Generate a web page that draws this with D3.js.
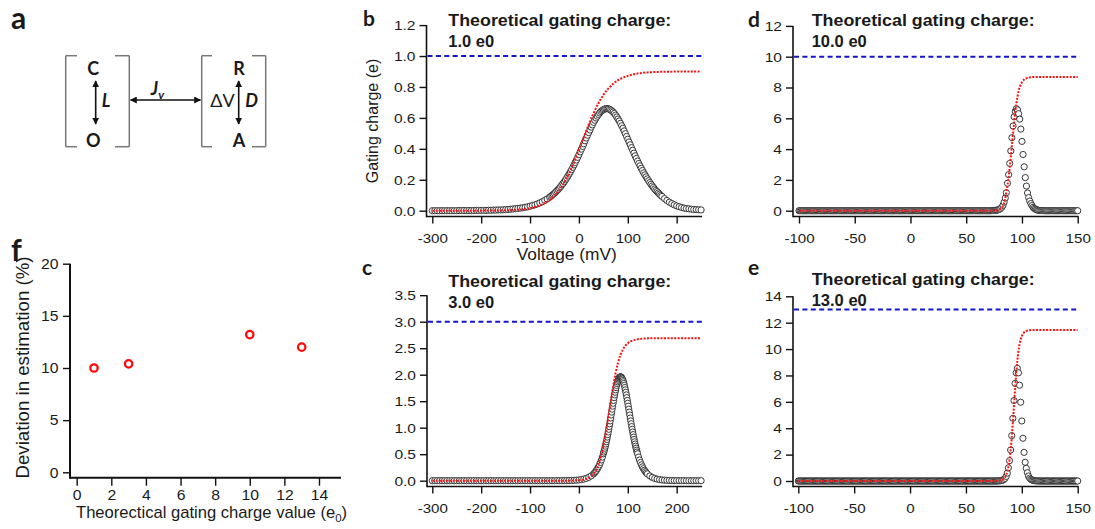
<!DOCTYPE html>
<html>
<head>
<meta charset="utf-8">
<script src="https://cdn.jsdelivr.net/npm/d3@7"></script>
<style>
  body { margin: 0; background: #fff; }
  text { font-family: "Liberation Sans", Arial, sans-serif; fill: #1a1a1a; }
  .cal { font-family: Lato, "Open Sans", sans-serif; }
</style>
</head>
<body>
<svg id="fig" width="1095" height="529"></svg>
<script>
// ---------- data ----------
// panel b : measured charge (circles) and fitted cumulative charge (red dots), [mV, e]
var bCircles = [
 [-300,0],[-295,0],[-290,0],[-285,0],[-280,0],[-275,0],[-270,0],[-265,0],[-260,0],[-255,0],[-250,0],
 [-245,0.001],[-240,0.001],[-235,0.001],[-230,0.001],[-225,0.001],[-220,0.001],[-215,0.001],[-210,0.002],[-205,0.002],[-200,0.002],
 [-195,0.002],[-190,0.002],[-185,0.003],[-180,0.003],[-175,0.004],[-170,0.004],[-165,0.005],[-160,0.005],[-155,0.006],[-150,0.007],
 [-145,0.008],[-140,0.010],[-135,0.011],[-130,0.013],[-125,0.015],[-120,0.017],[-115,0.019],[-110,0.022],[-105,0.025],[-100,0.029],
 [-95,0.034],[-90,0.038],[-85,0.044],[-80,0.051],[-75,0.058],[-70,0.067],[-65,0.076],[-60,0.087],
 [-57.5,0.093],[-55,0.100],[-52.5,0.106],[-50,0.113],[-47.5,0.121],[-45,0.129],[-42.5,0.137],[-40,0.146],[-37.5,0.156],[-35,0.166],
 [-32.5,0.176],[-30,0.187],[-27.5,0.199],[-25,0.211],[-22.5,0.224],[-20,0.237],[-17.5,0.251],[-15,0.265],[-12.5,0.280],[-10,0.296],
 [-7.5,0.312],[-5,0.328],[-2.5,0.345],[0,0.362],[2.5,0.380],[5,0.398],[7.5,0.415],[10,0.433],[12.5,0.452],[15,0.470],
 [17.5,0.488],[20,0.505],[22.5,0.522],[25,0.540],[27.5,0.555],[30,0.571],[32.5,0.585],[35,0.599],[37.5,0.611],[40,0.622],
 [42.5,0.632],[45,0.641],[47.5,0.648],[50,0.653],[52.5,0.657],[55,0.659],[57.5,0.660],[60,0.659],[62.5,0.656],[65,0.651],
 [67.5,0.645],[70,0.638],[72.5,0.629],[75,0.618],[77.5,0.606],[80,0.593],[82.5,0.580],[85,0.565],[87.5,0.549],[90,0.533],
 [92.5,0.516],[95,0.498],[97.5,0.480],[100,0.462],[102.5,0.444],[105,0.426],[107.5,0.408],[110,0.391],[112.5,0.372],[115,0.355],
 [117.5,0.338],[120,0.321],[122.5,0.305],[125,0.290],[127.5,0.274],[130,0.260],[132.5,0.245],[135,0.232],[137.5,0.219],[140,0.206],
 [142.5,0.194],[145,0.182],[147.5,0.171],[150,0.160],[152.5,0.150],[155,0.140],[157.5,0.131],[160,0.123],[162.5,0.115],[165,0.107],
 [167.5,0.099],[170,0.092],[175,0.078],[180,0.066],[185,0.055],[190,0.046],[195,0.038],[200,0.031],[205,0.026],[210,0.021],
 [215,0.017],[220,0.014],[225,0.012],[230,0.010],[235,0.008],[240,0.007],[245,0.006],[250,0.005]
];
var bRed = [
 [-300,0],[-250,0],[-200,0],[-190,0.001],[-180,0.001],[-170,0.001],[-160,0.002],[-150,0.003],[-140,0.004],[-130,0.006],
 [-120,0.008],[-110,0.012],[-100,0.017],[-90,0.024],[-80,0.034],[-70,0.049],[-60,0.069],[-50,0.097],[-40,0.134],[-30,0.182],
 [-20,0.242],[-10,0.313],[0,0.392],[10,0.475],[20,0.556],[30,0.631],[40,0.695],[50,0.748],[60,0.789],[70,0.820],
 [80,0.844],[90,0.860],[100,0.872],[110,0.881],[120,0.887],[130,0.891],[140,0.894],[150,0.896],[160,0.897],[170,0.898],
 [180,0.899],[190,0.899],[200,0.9],[225,0.9],[250,0.9]
];

// panel c
var cCircles = [
 [-300,0],[-295,0],[-290,0],[-285,0],[-280,0],[-275,0],[-270,0],[-265,0],[-260,0],[-255,0],
 [-250,0],[-245,0],[-240,0],[-235,0],[-230,0],[-225,0],[-220,0],[-215,0],[-210,0],[-205,0],
 [-200,0],[-195,0],[-190,0],[-185,0],[-180,0],[-175,0],[-170,0],[-165,0],[-160,0],[-155,0],
 [-150,0],[-145,0],[-140,0],[-135,0],[-130,0],[-125,0],[-120,0],[-115,0],[-110,0],[-105,0],
 [-100,0],[-95,0],[-90,0],[-85,0],[-80,0],[-75,0],[-70,0],[-65,0],[-60,0],[-55,0],
 [-50,0],[-45,0.001],[-40,0.001],[-35,0.001],[-30,0.002],[-25,0.002],[-20,0.003],[-15,0.005],[-10,0.007],[-5,0.010],
 [0,0.014],[5,0.021],[10,0.030],[15,0.043],[20,0.063],[25,0.090],[30,0.129],[32,0.149],[34,0.171],[36,0.197],
 [38,0.227],[40,0.261],[42,0.299],[44,0.343],[46,0.391],[48,0.446],[50,0.508],[51,0.541],[52,0.576],[53,0.613],
 [54,0.651],[55,0.692],[56,0.734],[57,0.778],[58,0.823],[59,0.870],[60,0.919],[61,0.970],[62,1.021],[63,1.074],
 [64,1.128],[65,1.183],[66,1.239],[67,1.294],[68,1.350],[69,1.406],[70,1.461],[71,1.515],[72,1.568],[73,1.619],
 [74,1.668],[75,1.714],[76,1.757],[77,1.798],[78,1.834],[79,1.866],[80,1.894],[81,1.918],[82,1.936],[83,1.949],
 [84,1.957],[85,1.960],[86,1.957],[87,1.949],[88,1.936],[89,1.918],[90,1.894],[91,1.866],[92,1.834],[93,1.798],
 [94,1.757],[95,1.714],[96,1.668],[97,1.619],[98,1.568],[99,1.515],[100,1.461],[101,1.406],[102,1.350],[103,1.294],
 [104,1.239],[105,1.183],[106,1.128],[107,1.074],[108,1.021],[109,0.970],[110,0.919],[111,0.870],[112,0.823],[113,0.778],
 [114,0.734],[115,0.692],[116,0.651],[117,0.613],[118,0.576],[119,0.541],[120,0.508],[122,0.446],[124,0.391],[126,0.343],
 [128,0.299],[130,0.261],[132,0.227],[134,0.197],[136,0.171],[138,0.149],[140,0.129],[145,0.090],[150,0.063],[155,0.043],
 [160,0.030],[165,0.021],[170,0.014],[175,0.010],[180,0.007],[185,0.005],[190,0.003],[195,0.002],[200,0.002],[205,0.001],
 [210,0.001],[215,0.001],[220,0],[225,0],[230,0],[235,0],[240,0],[245,0],[250,0]
];
var cRed = [
 [-300,0],[-200,0],[-100,0],[-50,0],[-30,0],[-20,0.001],[-10,0.004],[0,0.009],[5,0.014],[10,0.022],
 [15,0.035],[20,0.055],[25,0.086],[30,0.133],[35,0.203],[40,0.307],[45,0.454],[50,0.652],[55,0.900],[60,1.189],
 [65,1.491],[70,1.78],[75,2.029],[80,2.226],[85,2.373],[90,2.476],[95,2.547],[100,2.594],[105,2.625],[110,2.645],
 [115,2.658],[120,2.668],[125,2.674],[130,2.680],[135,2.684],[140,2.686],[150,2.688],[200,2.688],[250,2.688]
];

// panels d and e share a 1 mV voltage grid from -100 to 150 mV
var voltsDE = d3.range(-100, 151, 1);
var dCharge = [
 0,0,0,0,0,0,0,0,0,0,0,0,0,0,0,0,0,0,0,0,
 0,0,0,0,0,0,0,0,0,0,0,0,0,0,0,0,0,0,0,0,
 0,0,0,0,0,0,0,0,0,0,0,0,0,0,0,0,0,0,0,0,
 0,0,0,0,0,0,0,0,0,0,0,0,0,0,0,0,0,0,0,0,
 0,0,0,0,0,0,0,0,0,0,0,0,0,0,0,0,0,0,0,0,
 0,0,0,0,0,0,0,0,0,0,0,0,0,0,0,0,0,0,0,0,
 0,0,0,0,0,0,0,0,0,0,0,0,0,0,0,0,0,0,0,0,
 0,0,0,0,0,0,0,0,0,0,0,0,0,0,0,0,0,0,0,0,
 0,0,0,0,0,0,0,0,0,0,0,0,
 0.003,0.005,0.008,0.012,0.02,0.03,0.045,0.07,0.1,0.15,
 0.23,0.35,0.55,0.82,1.17,1.78,2.34,3.07,3.88,4.74,
 5.5,6.1,6.45,6.62,6.55,6.3,5.95,5.3,4.5,3.65,
 2.85,2.15,1.6,1.15,0.85,0.63,0.46,0.33,0.22,0.15,
 0.1,0.065,0.04,0.025,0.015,0.01,0.006,0.004,0.002,
 0,0,0,0,0,0,0,0,0,0,0,0,0,0,0,0,0,0,0,0,
 0,0,0,0,0,0,0,0,0,0
];
var dRed = [
 [-100,0],[0,0],[50,0],[70,0],[75,0.01],[78,0.03],[80,0.08],[82,0.2],[84,0.5],[85,0.8],
 [86,1.21],[87,1.64],[88,2.16],[89,2.79],[90,3.51],[91,4.27],[92,5.04],[93,5.78],[94,6.43],[95,6.97],
 [96,7.41],[97,7.76],[98,8.02],[99,8.21],[100,8.35],[102,8.52],[104,8.6],[106,8.65],[110,8.68],[120,8.68],[150,8.68]
];
var eCharge = [
 0,0,0,0,0,0,0,0,0,0,0,0,0,0,0,0,0,0,0,0,
 0,0,0,0,0,0,0,0,0,0,0,0,0,0,0,0,0,0,0,0,
 0,0,0,0,0,0,0,0,0,0,0,0,0,0,0,0,0,0,0,0,
 0,0,0,0,0,0,0,0,0,0,0,0,0,0,0,0,0,0,0,0,
 0,0,0,0,0,0,0,0,0,0,0,0,0,0,0,0,0,0,0,0,
 0,0,0,0,0,0,0,0,0,0,0,0,0,0,0,0,0,0,0,0,
 0,0,0,0,0,0,0,0,0,0,0,0,0,0,0,0,0,0,0,0,
 0,0,0,0,0,0,0,0,0,0,0,0,0,0,0,0,0,0,0,0,
 0,0,0,0,0,0,0,0,0,0,0,0,0,0,0,0,0,0,
 0.006,0.01,0.015,0.025,0.04,0.07,0.12,0.2,0.35,0.6,
 1.0,1.54,2.35,3.44,4.75,6.1,7.4,8.2,8.54,8.2,
 7.26,5.97,4.55,3.24,2.17,1.42,0.96,0.63,0.38,0.22,
 0.13,0.08,0.05,0.03,0.02,0.01,0.007,0.005,
 0,0,0,0,0,0,0,0,0,0,0,0,0,0,0,0,0,0,0,0,
 0,0,0,0,0,0,0,0,0,0,0,0,0,0,0
];
var eRed = [
 [-100,0],[0,0],[50,0],[75,0],[78,0.013],[80,0.03],[82,0.077],[84,0.19],[85,0.29],[86,0.46],
 [87,0.7],[88,1.07],[89,1.6],[90,2.34],[91,3.29],[92,4.45],[93,5.73],[94,7.0],[95,8.16],[96,9.11],
 [97,9.86],[98,10.38],[99,10.75],[100,10.99],[102,11.26],[104,11.37],[106,11.42],[110,11.44],[120,11.44],[150,11.44]
];

// theoretical gating charge of each simulation (blue dashed line + title)
var theoryCharge = [1.0, 3.0, 10.0, 13.0];

// tick labels
var ticksVoltWide = [-300, -200, -100, 0, 100, 200];
var ticksVoltNarrow = [-100, -50, 0, 50, 100, 150];
var ticksB = [0, 0.2, 0.4, 0.6, 0.8, 1.0, 1.2];
var ticksC = [0, 0.5, 1.0, 1.5, 2.0, 2.5, 3.0, 3.5];
var ticksD = [0, 2, 4, 6, 8, 10, 12];
var ticksE = [0, 2, 4, 6, 8, 10, 12, 14];

// panel f : deviation of estimated from theoretical charge
var fCharge = [1, 3, 10, 13];
var fDeviation = [10.0, 10.4, 13.2, 12.0];
var fTicksX = [0, 2, 4, 6, 8, 10, 12, 14];
var fTicksY = [0, 5, 10, 15, 20];

// ---------- drawing ----------
var svg = d3.select('#fig');

var defs = svg.append('defs');
defs.append('marker')
  .attr('id', 'head')
  .attr('viewBox', '0 0 10 10')
  .attr('refX', 9).attr('refY', 5)
  .attr('markerWidth', 7).attr('markerHeight', 7)
  .attr('markerUnits', 'userSpaceOnUse')
  .attr('orient', 'auto-start-reverse')
  .append('path').attr('d', 'M0,0 L10,5 L0,10 z').attr('fill', '#111');

// the original figure is a little stretched sideways: widen tick labels a bit
function styleAxis(sel, fs, stretch) {
  sel.select('.domain').remove();
  sel.attr('font-size', null).attr('font-family', null);
  sel.selectAll('.tick line').attr('stroke', '#111').attr('stroke-width', 1.4);
  sel.selectAll('.tick text').attr('fill', '#1a1a1a').style('font-size', fs + 'px')
    .each(function() {
      if (stretch) {
        var len = this.getComputedTextLength();
        d3.select(this).attr('textLength', len * stretch).attr('lengthAdjust', 'spacingAndGlyphs');
      }
    });
}

var panels = [
  {id: 'b', circles: bCircles, red: bRed, theory: theoryCharge[0], xDom: [-300, 250], xR: [432.3, 701.1],
   yDom: [0, 1.2], yR: [210.7, 25.1], ax: 426.5, ay: 216.5, xt: ticksVoltWide, yt: ticksB, dec: 1,
   tx: 448.3, ty: 26, lx: 363, ly: 26},
  {id: 'c', circles: cCircles, red: cRed, theory: theoryCharge[1], xDom: [-300, 250], xR: [432.3, 701.1],
   yDom: [0, 3.5], yR: [480.7, 295.2], ax: 427, ay: 486.5, xt: ticksVoltWide, yt: ticksC, dec: 1,
   tx: 448.3, ty: 287.3, lx: 362, ly: 275},
  {id: 'd', circles: voltsDE.map(function(v, i) { return [v, dCharge[i]]; }), red: dRed, theory: theoryCharge[2],
   xDom: [-100, 150], xR: [799, 1077.7], yDom: [0, 12], yR: [210.7, 25.9], ax: 793, ay: 216.5,
   xt: ticksVoltNarrow, yt: ticksD, dec: 0, tx: 811.7, ty: 26, lx: 748, ly: 26.5},
  {id: 'e', circles: voltsDE.map(function(v, i) { return [v, eCharge[i]]; }), red: eRed, theory: theoryCharge[3],
   xDom: [-100, 150], xR: [798.3, 1077.7], yDom: [0, 14], yR: [481, 296.3], ax: 793, ay: 486.5,
   xt: ticksVoltNarrow, yt: ticksE, dec: 0, tx: 811.7, ty: 285, lx: 748, ly: 275}
];

panels.forEach(function(p) {
  var x = d3.scaleLinear().domain(p.xDom).range(p.xR);
  var y = d3.scaleLinear().domain(p.yDom).range(p.yR);
  var g = svg.append('g').attr('class', 'panel-' + p.id);

  var yAxis = d3.axisLeft(y).tickValues(p.yt).tickSize(7).tickPadding(4).tickSizeOuter(0)
    .tickFormat(function(d) { return d.toFixed(p.dec); });
  g.append('g').attr('transform', 'translate(' + p.ax + ',0)').call(yAxis).call(styleAxis, 13.5, 1.15);

  var xAxis = d3.axisBottom(x).tickValues(p.xt).tickSize(7).tickPadding(9.5).tickSizeOuter(0)
    .tickFormat(function(d) { return String(d); });
  g.append('g').attr('transform', 'translate(0,' + p.ay + ')').call(xAxis).call(styleAxis, 13.5, 1.12);

  // axis frame lines, offset from the data like the original
  g.append('line').attr('x1', p.ax).attr('x2', p.ax).attr('y1', p.yR[1]).attr('y2', p.ay + 0.75)
    .attr('stroke', '#111').attr('stroke-width', 1.6);
  g.append('line').attr('x1', p.ax).attr('x2', p.xR[1] + 1).attr('y1', p.ay).attr('y2', p.ay)
    .attr('stroke', '#111').attr('stroke-width', 1.6);

  // measured charge, open markers drawn in order
  g.append('g').selectAll('circle').data(p.circles).join('circle')
    .attr('cx', function(d) { return x(d[0]); })
    .attr('cy', function(d) { return y(d[1]); })
    .attr('r', 3.1)
    .attr('fill', '#fff')
    .attr('stroke', '#222')
    .attr('stroke-width', 0.9);

  var line = d3.line()
    .x(function(d) { return x(d[0]); })
    .y(function(d) { return y(d[1]); })
    .curve(d3.curveMonotoneX);
  g.append('path').datum(p.red).attr('d', line)
    .attr('fill', 'none').attr('stroke', '#ff1010').attr('stroke-width', 2)
    .attr('stroke-dasharray', '2,1.4');

  g.append('line')
    .attr('x1', p.ax + 1).attr('x2', p.xR[1] + 2)
    .attr('y1', y(p.theory)).attr('y2', y(p.theory))
    .attr('stroke', '#1515d0').attr('stroke-width', 2).attr('stroke-dasharray', '5,3.4');

  g.append('text').attr('x', p.tx).attr('y', p.ty)
    .attr('font-weight', 'bold').attr('font-size', 16.5)
    .attr('textLength', 223).attr('lengthAdjust', 'spacingAndGlyphs')
    .text('Theoretical gating charge:');
  g.append('text').attr('x', p.tx).attr('y', p.ty + 20.7)
    .attr('font-weight', 'bold').attr('font-size', 16.5)
    .text(p.theory.toFixed(1) + ' e0');

  g.append('text').attr('class', 'cal').attr('x', p.lx).attr('y', p.ly)
    .attr('font-weight', 'bold').attr('font-size', 21).text(p.id);

  if (p.id === 'b') {
    g.append('text').attr('transform', 'translate(378,121) rotate(-90)')
      .attr('text-anchor', 'middle').attr('font-size', 16).text('Gating charge (e)');
    g.append('text').attr('x', 566.7).attr('y', 260)
      .attr('text-anchor', 'middle').attr('font-size', 16)
      .attr('textLength', 100).attr('lengthAdjust', 'spacingAndGlyphs')
      .text('Voltage (mV)');
  }
});

// ---------- panel f ----------
(function() {
  var x = d3.scaleLinear().domain([0, 14]).range([76.7, 319]);
  var y = d3.scaleLinear().domain([0, 20]).range([472.3, 263.7]);
  var g = svg.append('g').attr('class', 'panel-f');
  var ax = 70, ay = 477.7;

  g.append('g').attr('transform', 'translate(' + ax + ',0)')
    .call(d3.axisLeft(y).tickValues(fTicksY).tickSize(7).tickPadding(4.5).tickSizeOuter(0))
    .call(styleAxis, 15, 1.05);
  g.append('g').attr('transform', 'translate(0,' + ay + ')')
    .call(d3.axisBottom(x).tickValues(fTicksX).tickSize(8).tickPadding(3.5).tickSizeOuter(0))
    .call(styleAxis, 15, 1.05);
  g.append('line').attr('x1', ax).attr('x2', ax).attr('y1', y(20)).attr('y2', ay + 1)
    .attr('stroke', '#111').attr('stroke-width', 2);
  g.append('line').attr('x1', ax).attr('x2', 341).attr('y1', ay).attr('y2', ay)
    .attr('stroke', '#111').attr('stroke-width', 2);

  g.selectAll('circle').data(fCharge).join('circle')
    .attr('cx', function(d) { return x(d); })
    .attr('cy', function(d, i) { return y(fDeviation[i]); })
    .attr('r', 3.7).attr('fill', '#fff').attr('stroke', '#ff0a0a').attr('stroke-width', 2.3);

  g.append('text').attr('transform', 'translate(29,367.5) rotate(-90)')
    .attr('text-anchor', 'middle').attr('font-size', 19)
    .attr('textLength', 222).attr('lengthAdjust', 'spacingAndGlyphs')
    .text('Deviation in estimation (%)');
  var t = g.append('text').attr('x', 76).attr('y', 517.5).attr('font-size', 16.6);
  t.append('tspan').text('Theorectical gating charge value (e');
  t.append('tspan').attr('font-size', 11.5).attr('dy', 4).text('0');
  t.append('tspan').attr('dy', -4).text(')');

  g.append('text').attr('class', 'cal').attr('x', 11).attr('y', 261)
    .attr('font-weight', 'bold').attr('font-size', 30).text('f');
})();

// ---------- panel a : kinetic scheme ----------
(function() {
  var g = svg.append('g').attr('class', 'panel-a');
  g.append('text').attr('class', 'cal').attr('x', 11).attr('y', 28.5)
    .attr('font-weight', 'bold').attr('font-size', 30).text('a');

  var br = [
    // left box
    [65.7, 55.7, 65.7, 146.7], [65.7, 55.7, 77, 55.7], [65.7, 146.7, 77, 146.7],
    [129.3, 55.7, 129.3, 146.7], [115, 55.7, 129.3, 55.7], [115, 146.7, 129.3, 146.7],
    // right box
    [201.7, 55.7, 201.7, 146.7], [201.7, 55.7, 212, 55.7], [201.7, 146.7, 212, 146.7],
    [265.7, 55.7, 265.7, 146.7], [252, 55.7, 265.7, 55.7], [252, 146.7, 265.7, 146.7]
  ];
  g.selectAll('line.br').data(br).join('line').attr('class', 'br')
    .attr('x1', function(d) { return d[0]; }).attr('y1', function(d) { return d[1]; })
    .attr('x2', function(d) { return d[2]; }).attr('y2', function(d) { return d[3]; })
    .attr('stroke', '#777').attr('stroke-width', 1.5);

  var arrows = [[95.7, 81, 95.7, 124], [238.7, 81, 238.7, 124], [130.5, 100, 200.5, 100]];
  g.selectAll('line.ar').data(arrows).join('line').attr('class', 'ar')
    .attr('x1', function(d) { return d[0]; }).attr('y1', function(d) { return d[1]; })
    .attr('x2', function(d) { return d[2]; }).attr('y2', function(d) { return d[3]; })
    .attr('stroke', '#111').attr('stroke-width', 1.6)
    .attr('marker-start', 'url(#head)').attr('marker-end', 'url(#head)');

  function lab(txt, x, y, opts) {
    return g.append('text').attr('class', 'cal').attr('x', x).attr('y', y)
      .attr('text-anchor', 'middle').attr('font-size', opts.fs || 18)
      .attr('font-weight', opts.w || 'bold').attr('font-style', opts.it ? 'italic' : 'normal')
      .text(txt);
  }
  lab('C', 93.3, 74.5, {});
  lab('O', 93.3, 146.5, {});
  lab('R', 239, 74.5, {});
  lab('A', 239, 146.5, {});
  lab('L', 106, 107.3, {it: true});
  lab('D', 251.7, 107.3, {it: true});
  lab('\u0394V', 222.5, 107.3, {w: 'normal'});
  var j = lab('J', 157.5, 95, {it: true});
  j.append('tspan').attr('font-size', 12).attr('dy', 3.5).text('v');
})();
</script>
</body>
</html>
